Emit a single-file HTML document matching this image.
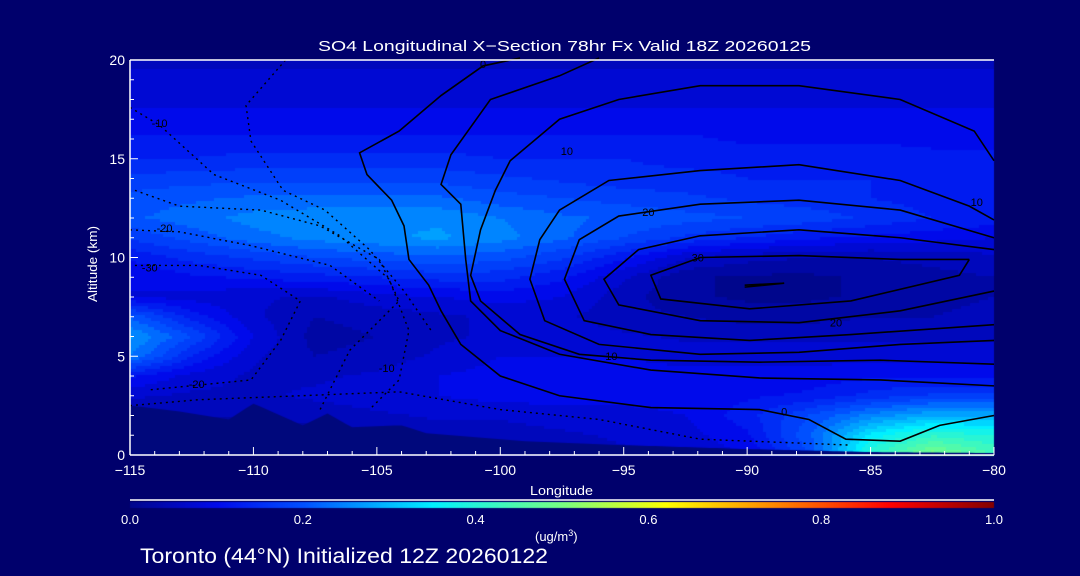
<!DOCTYPE html>
<html><head><meta charset="utf-8">
<style>
html,body{margin:0;padding:0;background:#00006c;width:1080px;height:576px;overflow:hidden}
#wrap{position:relative;width:1080px;height:576px}
canvas{position:absolute;left:0;top:0}
svg{position:absolute;left:0;top:0}
text{font-family:"Liberation Sans",sans-serif;fill:#fff}
</style></head>
<body>
<div id="wrap">
<canvas id="cv" width="1080" height="576"></canvas>
<svg id="sv" width="1080" height="576"></svg>
</div>
<script>
// ---- data ----
const lons = [-115,-112.5,-110,-107.5,-105,-102.5,-100,-97.5,-95,-92.5,-90,-87.5,-85,-82.5,-80];
const alts = [0,1,2,3,4,5,6,7,8,9,10,11,12,13,14,15,16,17,18,19,20];
const conc = [
[.02,.02,.02,.03,.04,.05,.05,.06,.07,.08,.10,.20,.42,.52,.45],
[.03,.03,.03,.04,.05,.06,.06,.07,.08,.09,.12,.22,.36,.42,.40],
[.05,.05,.05,.06,.07,.08,.08,.09,.09,.10,.14,.20,.26,.30,.30],
[.08,.07,.07,.08,.09,.10,.11,.11,.11,.11,.12,.13,.16,.18,.18],
[.13,.09,.07,.07,.08,.10,.11,.11,.11,.11,.11,.11,.12,.12,.12],
[.25,.15,.08,.05,.06,.08,.10,.10,.10,.09,.09,.09,.09,.09,.09],
[.28,.20,.10,.04,.05,.07,.08,.09,.08,.07,.07,.07,.07,.07,.07],
[.22,.14,.08,.05,.06,.07,.08,.08,.06,.05,.04,.04,.05,.05,.06],
[.10,.09,.08,.07,.09,.10,.11,.10,.06,.03,.02,.02,.03,.04,.05],
[.10,.12,.13,.14,.15,.16,.16,.13,.08,.03,.02,.02,.03,.04,.05],
[.13,.16,.18,.20,.21,.22,.21,.18,.13,.08,.06,.05,.05,.06,.07],
[.18,.21,.24,.26,.27,.28,.26,.23,.20,.17,.15,.13,.12,.11,.10],
[.22,.24,.26,.27,.27,.27,.25,.23,.22,.21,.20,.19,.17,.15,.14],
[.21,.22,.23,.23,.23,.23,.21,.20,.19,.18,.17,.16,.15,.14,.14],
[.18,.19,.19,.19,.19,.19,.18,.17,.16,.16,.15,.15,.15,.14,.14],
[.15,.15,.16,.16,.16,.16,.15,.15,.15,.14,.14,.14,.14,.13,.13],
[.13,.13,.13,.13,.13,.13,.13,.13,.13,.13,.12,.12,.12,.12,.12],
[.11,.11,.11,.11,.11,.11,.11,.11,.11,.11,.11,.11,.11,.11,.11],
[.09,.09,.09,.09,.09,.09,.09,.09,.09,.09,.09,.09,.09,.09,.09],
[.08,.08,.08,.08,.08,.08,.08,.08,.08,.08,.08,.08,.08,.08,.08],
[.07,.07,.07,.07,.07,.07,.07,.07,.07,.07,.07,.07,.07,.07,.07]];
const terrainLon = [-115,-113,-111,-110,-108,-107,-106,-104,-103,-101,-99,-95,-90,-85,-80];
const terrainAlt = [2.5,2.2,1.8,2.6,1.5,2.1,1.4,1.5,1.1,0.9,0.7,0.5,0.3,0.15,0.1];
const solidContours = [
[[-99.2,20.1],[-100.7,19.7],[-102.4,18.2],[-104.1,16.4],[-105.7,15.3],[-105.4,14.2],[-104.4,12.9],[-103.9,11.6],[-103.7,9.9],[-102.9,8.6],[-102.4,7.3],[-101.6,5.6],[-100,4.0],[-97.6,3.0],[-93.9,2.4],[-89.5,2.3],[-87.5,1.8],[-86,0.8],[-83.8,0.7],[-82.2,1.5],[-80,2.0]],
[[-96,20.1],[-97.6,19.2],[-100.4,18],[-102,15.2],[-102.4,13.7],[-101.6,12.7],[-101.4,9.9],[-101.2,7.8],[-100,6.3],[-97.6,5.1],[-93.9,4.3],[-89.5,3.9],[-84.6,3.8],[-80,3.5]],
[[-80,14.9],[-80.8,16.4],[-83.8,18],[-87.9,18.7],[-91.9,18.7],[-95.2,18],[-97.6,17],[-99.6,14.9],[-100.2,13.4],[-100.8,11.4],[-101.2,9.1],[-100.8,7.8],[-99.2,6.1],[-96.8,5.1],[-93.9,4.8],[-89.5,4.7],[-84.6,4.8],[-80,4.6]],
[[-80,11.9],[-81,12.6],[-83.8,13.9],[-87.9,14.7],[-91.9,14.4],[-95.6,13.9],[-97.6,12.4],[-98.4,10.9],[-98.8,8.9],[-98.2,6.8],[-96,5.6],[-91.9,5.1],[-87.9,5.2],[-83.8,5.6],[-80,5.8]],
[[-80,11],[-83.8,12.4],[-87.9,12.9],[-91.9,12.7],[-95.2,12.1],[-96.8,10.9],[-97.4,8.9],[-96.6,6.8],[-93.9,6.1],[-89.9,5.8],[-85.8,6.1],[-80,6.6]],
[[-80,10.4],[-83.8,11],[-87.9,11.4],[-91.9,11.1],[-94.4,10.4],[-95.8,8.9],[-95.2,7.6],[-91.9,6.8],[-87.9,6.7],[-83.8,7.3],[-80,8.3]],
[[-81,9.9],[-83.8,9.9],[-87.9,10.1],[-91.9,10],[-93.9,9.1],[-93.5,7.9],[-89.9,7.4],[-85.8,7.8],[-81.4,9.1],[-81,9.9]],
[[-90.1,8.6],[-88.5,8.7],[-90.1,8.5]]];
const dottedContours = [
[[-108.7,20],[-110.3,17.7],[-110.1,15.9],[-108.8,13.4],[-107.1,12.4],[-105.3,10.4],[-103.9,8.3],[-102.8,6.3]],
[[-115,17.6],[-113.8,16.7],[-111.6,14.2],[-108.9,12.9],[-106.5,11.1],[-104.5,8.9],[-103.7,6.3],[-104.1,3.8],[-105.3,2.3]],
[[-114.8,13.4],[-113,12.6],[-109.7,12.4],[-107.3,11.6],[-104.9,9.9],[-104.1,7.8],[-106.1,5.3],[-107.3,2.3]],
[[-115,11.4],[-113,11.3],[-110.1,10.6],[-106.9,9.6],[-104.9,7.8]],
[[-114.8,9.6],[-112.2,9.6],[-109.7,9.1],[-108.1,7.8],[-108.9,5.8],[-110.1,3.8],[-114.2,3.3]],
[[-115,2.5],[-112.2,2.8],[-108.1,3.0],[-104.1,3.2],[-100,2.3],[-96,1.8],[-91.9,0.8],[-85.8,0.5]]];
const contourLabels = [["0",-100.7,19.6],["10",-97.3,15.2],["10",-80.7,12.6],["20",-94,12.1],["30",-92,9.8],["20",-86.4,6.5],["10",-95.5,4.8],["0",-88.5,2.0],["-10",-113.8,16.6],["-20",-113.6,11.3],["-30",-114.2,9.3],["-20",-112.3,3.4],["-10",-104.6,4.2]];
const xTicks = [-115,-110,-105,-100,-95,-90,-85,-80];
const yTicks = [0,5,10,15,20];
const cbTicks = [0.0,0.2,0.4,0.6,0.8,1.0];

// ---- axes ----
const X0=130,X1=994,Y0=455,Y1=60;
const xs = v => X0 + (v+115)/35*(X1-X0);
const ys = v => Y0 - v/20*(Y0-Y1);
const cb = v => X0 + v*(X1-X0);
const stops=[[0,[0,6,140]],[0.1,[0,10,235]],[0.2,[0,80,255]],[0.35,[0,240,255]],[0.5,[120,255,130]],[0.62,[255,255,0]],[0.75,[255,130,0]],[0.88,[255,0,0]],[1,[130,0,0]]];
function cmap(v){v=Math.max(0,Math.min(1,v));for(let i=1;i<stops.length;i++){if(v<=stops[i][0]){const a=stops[i-1],b=stops[i];const t=(v-a[0])/(b[0]-a[0]);return a[1].map((c,k)=>Math.round(c+(b[1][k]-c)*t));}}return stops[stops.length-1][1];}
function field(lon,alt){
  let fi=(lon+115)/2.5, fj=alt; fi=Math.max(0,Math.min(lons.length-1.0001,fi)); fj=Math.max(0,Math.min(alts.length-1.0001,fj));
  const i=Math.floor(fi),j=Math.floor(fj),tx=fi-i,ty=fj-j;
  return conc[j][i]*(1-tx)*(1-ty)+conc[j][i+1]*tx*(1-ty)+conc[j+1][i]*(1-tx)*ty+conc[j+1][i+1]*tx*ty;}
function terr(lon){for(let i=1;i<terrainLon.length;i++){if(lon<=terrainLon[i]){const t=(lon-terrainLon[i-1])/(terrainLon[i]-terrainLon[i-1]);return terrainAlt[i-1]+(terrainAlt[i]-terrainAlt[i-1])*t;}}return terrainAlt[terrainAlt.length-1];}

// ---- fill ----
const ctx=document.getElementById('cv').getContext('2d');
const step=3;
for(let px=X0;px<X1;px+=step){for(let py=Y1;py<Y0;py+=step){
  const lon=-115+(px+step/2-X0)/(X1-X0)*35, alt=(Y0-py-step/2)/(Y0-Y1)*20;
  let v=Math.floor(field(lon,alt)/0.025)*0.025;
  const c=cmap(v);
  ctx.fillStyle=`rgb(${c[0]},${c[1]},${c[2]})`;
  ctx.fillRect(px,py,step,step);}}
// terrain
ctx.fillStyle='#00087c';ctx.beginPath();ctx.moveTo(X0,Y0);
for(let lon=-115;lon<=-80;lon+=0.25)ctx.lineTo(xs(lon),ys(terr(lon)));
ctx.lineTo(X1,Y0);ctx.closePath();ctx.fill();
// colorbar
for(let px=X0;px<X1;px++){const c=cmap((px-X0)/(X1-X0));ctx.fillStyle=`rgb(${c[0]},${c[1]},${c[2]})`;ctx.fillRect(px,502,1,6);}

// ---- svg overlay ----
const NS='http://www.w3.org/2000/svg',sv=document.getElementById('sv');
function mk(tag,attrs,txt){const e=document.createElementNS(NS,tag);for(const k in attrs)e.setAttribute(k,attrs[k]);if(txt!==undefined)e.textContent=txt;sv.appendChild(e);return e;}
solidContours.forEach(line=>{
  const e=mk('polyline',{points:line.map(p=>xs(p[0])+','+ys(p[1])).join(' '),fill:'none',stroke:'#000','stroke-width':1.6});
  
  
});
dottedContours.forEach(line=>{
  const e=mk('polyline',{points:line.map(p=>xs(p[0])+','+ys(p[1])).join(' '),fill:'none',stroke:'#000','stroke-width':1.4,'stroke-dasharray':'2 4'});
  
  
});
contourLabels.forEach(l=>{
  const e=mk('text',{x:xs(l[1]),y:ys(l[2]),'font-size':11,'text-anchor':'middle',style:'fill:#000'},l[0]);
  
  
});
// frame
let f=mk('line',{x1:X0,y1:Y1,x2:X1,y2:Y1,stroke:'#fff','stroke-width':1.5});

f=mk('line',{x1:X0,y1:Y1,x2:X0,y2:Y0,stroke:'#fff','stroke-width':1.5});

f=mk('line',{x1:X0,y1:Y0,x2:X1,y2:Y0,stroke:'#fff','stroke-width':1.5});

for(let l=-115;l<=-80;l++){const major=(l%5===0);const t=mk('line',{x1:xs(l),y1:Y0,x2:xs(l),y2:Y0-(major?8:4),stroke:'#fff','stroke-width':1});
  }
for(let a=0;a<=20;a++){const major=(a%5===0);const t=mk('line',{x1:X0,y1:ys(a),x2:X0+(major?8:4),y2:ys(a),stroke:'#fff','stroke-width':1});
  }
xTicks.forEach(v=>{const t=mk('text',{x:xs(v),y:475,'font-size':14,'text-anchor':'middle'},String(v).replace('-','\u2212'));
  });
yTicks.forEach(v=>{const t=mk('text',{x:X0-5,y:ys(v)+5,'font-size':14,'text-anchor':'end'},v);
  });
cbTicks.forEach(v=>{const t=mk('text',{x:cb(v),y:524,'font-size':13,'text-anchor':'middle'},v.toFixed(1));
  });
f=mk('line',{x1:X0,y1:500,x2:X1,y2:500,stroke:'#fff','stroke-width':1.5});

</script>
<svg width="1080" height="576" style="position:absolute;left:0;top:0">
<text x="318" y="51" font-size="15" textLength="493" lengthAdjust="spacingAndGlyphs">SO4 Longitudinal X&#8722;Section 78hr  Fx Valid 18Z 20260125</text>
<text x="530" y="495" font-size="13" textLength="63" lengthAdjust="spacingAndGlyphs">Longitude</text>
<text transform="translate(97,302) rotate(-90)" font-size="13" textLength="76" lengthAdjust="spacingAndGlyphs">Altitude (km)</text>
<text x="535" y="541" font-size="13">(ug/m<tspan dy="-5" font-size="9">3</tspan><tspan dy="5">)</tspan></text>
<text x="140" y="563" font-size="21" textLength="408" lengthAdjust="spacingAndGlyphs">Toronto (44°N) Initialized 12Z 20260122</text>
</svg>
</body></html>
